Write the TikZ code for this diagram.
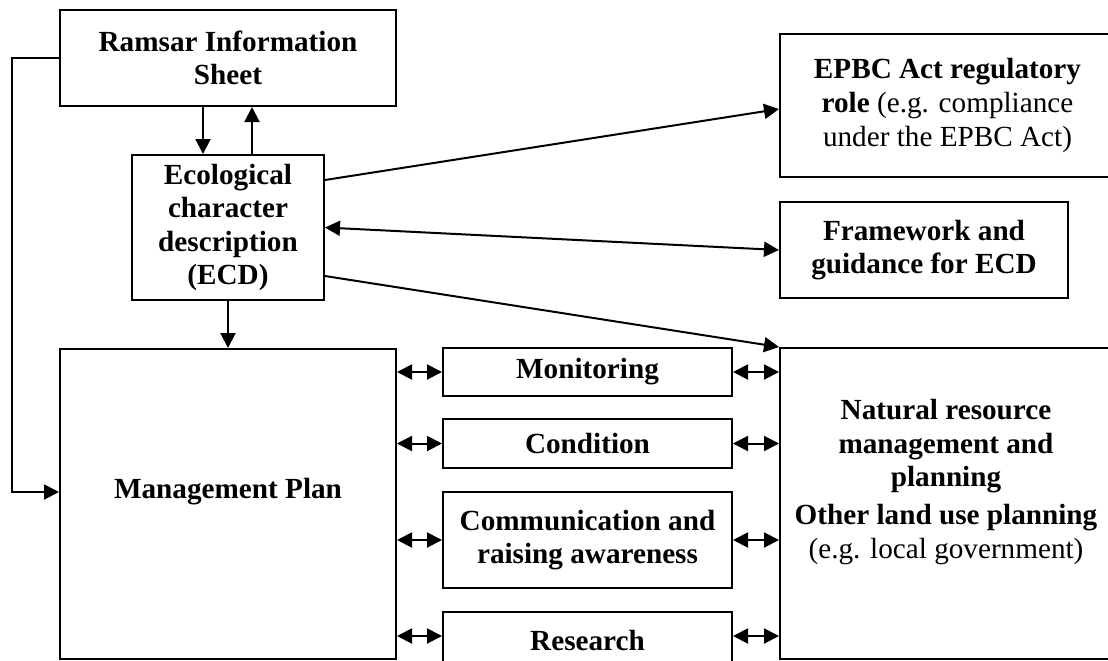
\documentclass[tikz,border=0pt]{standalone}
\usepackage{fontspec}
\setmainfont{Liberation Serif}
\usetikzlibrary{arrows.meta}
\begin{document}
\begin{tikzpicture}[x=0.5pt,y=-0.5pt,
  every node/.style={font=\fontsize{14.6pt}{16.8pt}\selectfont},
  box/.style={draw,line width=1pt,inner sep=0pt,align=center,rectangle},
  txt/.style={align=center,inner sep=0pt},
  arr/.style={line width=1pt,-{Triangle[length=7.5pt,width=7.5pt]}},
  darr/.style={line width=1pt,{Triangle[length=7.5pt,width=7.5pt]}-{Triangle[length=7.5pt,width=7.5pt]}}]
\useasboundingbox (0,0) rectangle (1108,660);
\clip (0,0) rectangle (1108,660);
% boxes
\node[box,minimum width=168pt,minimum height=48pt] (ram) at (228,58) {\textbf{Ramsar Information}\\\textbf{Sheet}};
\node[box,minimum width=96pt,minimum height=72.5pt] (ecd) at (228,227.5) {\textbf{Ecological}\\\textbf{character}\\\textbf{description}\\\textbf{(ECD)}};
\node[box,minimum width=167.5pt,minimum height=71.5pt] (epbc) at (947.5,105.5) {\textbf{EPBC Act regulatory}\\\textbf{role} (e.g. compliance\\under the EPBC Act)};
\node[box,minimum width=144pt,minimum height=48pt] (fw) at (924,250) {\textbf{Framework and}\\\textbf{guidance for ECD}};
\node[box,minimum width=168pt,minimum height=155pt] (mp) at (228,504) {};
\node[txt] (mpt) at (228,492) {\textbf{Management Plan}};
\node[box,minimum width=144.5pt,minimum height=24pt] (mon) at (587.5,372) {\textbf{Monitoring}};
\node[box,minimum width=144.5pt,minimum height=24.5pt] (cond) at (587.5,443.5) {\textbf{Condition}};
\node[box,minimum width=144.5pt,minimum height=48pt] (comm) at (587.5,540) {\textbf{Communication and}\\\textbf{raising awareness}};
\node[box,minimum width=144.5pt,minimum height=28pt] (res) at (587.5,640) {\textbf{Research}};
\node[box,minimum width=166pt,minimum height=155.5pt] (nrm) at (946,503.5) {};
\node[txt] (nrmt) at (946,482) {\textbf{Natural resource}\\\textbf{management and}\\\textbf{planning}\\[2pt]\textbf{Other land use planning}\\(e.g. local government)};
% helper coordinates
\coordinate (xa) at (203,0);
\coordinate (xb) at (252,0);
\coordinate (lp) at (12,492);
\coordinate (ya) at (0,180);
\coordinate (yb) at (0,109);
\coordinate (yc) at (0,276);
\coordinate (yr) at (0,636);
% connectors
\draw[arr] (ram.south -| xa) -- (ecd.north -| xa);
\draw[arr] (ecd.north -| xb) -- (ram.south -| xb);
\draw[arr] (ecd.south) -- (mp.north);
\draw[arr] (ram.west) -| (lp) -- (lp -| mp.west);
\draw[arr] (ecd.east |- ya) -- (epbc.west |- yb);
\draw[darr] (ecd.east) -- (fw.west);
\draw[arr] (ecd.east |- yc) -- (nrm.north west);
\draw[darr] (mp.east |- mon.center) -- (mon.west);
\draw[darr] (mp.east |- cond.center) -- (cond.west);
\draw[darr] (mp.east |- comm.center) -- (comm.west);
\draw[darr] (mp.east |- yr) -- (res.west |- yr);
\draw[darr] (mon.east) -- (nrm.west |- mon.center);
\draw[darr] (cond.east) -- (nrm.west |- cond.center);
\draw[darr] (comm.east) -- (nrm.west |- comm.center);
\draw[darr] (res.east |- yr) -- (nrm.west |- yr);
\end{tikzpicture}
\end{document}
